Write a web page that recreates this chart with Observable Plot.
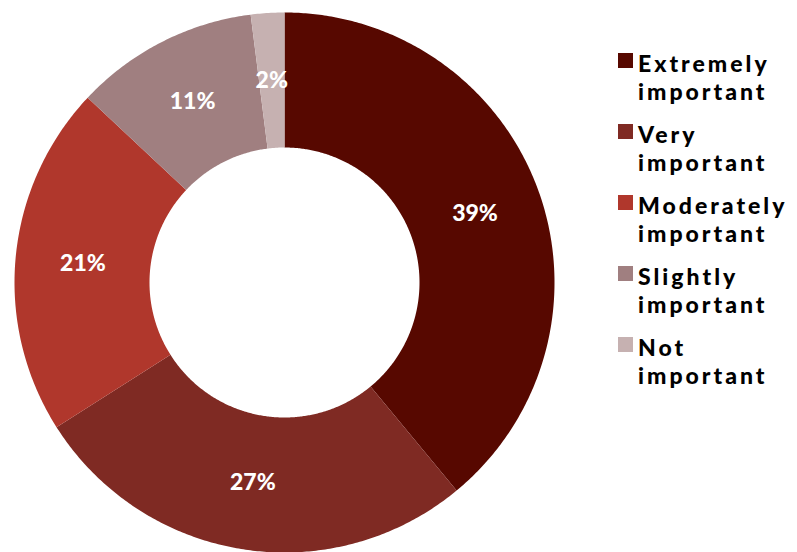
<!DOCTYPE html>
<html>
<head>
<meta charset="utf-8">
<script src="https://cdn.jsdelivr.net/npm/d3@7"></script>
<script src="https://cdn.jsdelivr.net/npm/@observablehq/plot@0.6"></script>
<style>
  html, body { margin: 0; padding: 0; background: #fff; }
  #wrap { position: relative; width: 797px; height: 552px; overflow: hidden; }
  #legend { position: absolute; left: 618px; top: 49px; font-family: Lato, "DejaVu Sans", sans-serif; font-weight: 900; font-size: 23px; line-height: 28px; color: #000; letter-spacing: 3px; }
  .item { position: relative; padding-left: 20px; height: 71px; }
  .sw { position: absolute; left: 0; top: 4px; width: 15px; height: 15px; }
</style>
</head>
<body>
<div id="wrap"><div id="chart"></div><div id="legend"></div></div>
<script>
const categories = ["Extremely important", "Very important", "Moderately important", "Slightly important", "Not important"];
const values = [39, 27, 21, 11, 2];
const colors = ["#570800", "#7f2a23", "#b0372c", "#a07f80", "#c6b1b1"];
const valueLabels = ["39%", "27%", "21%", "11%", "2%"];

const data = categories.map((c, i) => ({category: c, value: values[i], label: valueLabels[i]}));
const arcs = d3.pie().sort(null).value(d => d.value)(data);
const inner = 0.5, outer = 1;
const pt = (r, a) => [r * Math.sin(a), -r * Math.cos(a)];

const features = arcs.map(a => {
  const n = Math.max(4, Math.ceil((a.endAngle - a.startAngle) / (Math.PI / 360)));
  const outerPts = d3.range(n + 1).map(k => pt(outer, a.startAngle + (a.endAngle - a.startAngle) * k / n));
  const innerPts = d3.range(n + 1).map(k => pt(inner, a.endAngle - (a.endAngle - a.startAngle) * k / n));
  const ring = [...outerPts, ...innerPts, outerPts[0]];
  return {type: "Feature", properties: {category: a.data.category}, geometry: {type: "Polygon", coordinates: [ring]}};
});

const labelPos = arcs.map(a => {
  const m = (a.startAngle + a.endAngle) / 2;
  const [x, y] = pt((inner + outer) / 2, m);
  return {x, y, label: a.data.label};
});

const chart = Plot.plot({
  width: 797,
  height: 552,
  marginLeft: 14,
  marginRight: 243,
  marginTop: 12,
  marginBottom: 0,
  projection: {type: "identity", domain: {type: "MultiPoint", coordinates: [[-1, -1], [1, 1]]}},
  color: {domain: categories, range: colors},
  marks: [
    Plot.geo(features, {fill: d => d.properties.category, stroke: "none"}),
    Plot.text(labelPos, {x: "x", y: "y", text: "label", fill: "white", fontSize: 23, fontWeight: 900, fontFamily: "Lato, sans-serif", letterSpacing: 2.5})
  ]
});
document.getElementById("chart").appendChild(chart);

const legend = d3.select("#legend");
const color = chart.scale("color");
categories.forEach((c, i) => {
  const words = c.split(" ");
  const item = legend.append("div").attr("class", "item");
  item.append("div").attr("class", "sw").style("background", color.range[i]);
  item.append("div").text(words[0]);
  item.append("div").text(words.slice(1).join(" "));
});
</script>
</body>
</html>
